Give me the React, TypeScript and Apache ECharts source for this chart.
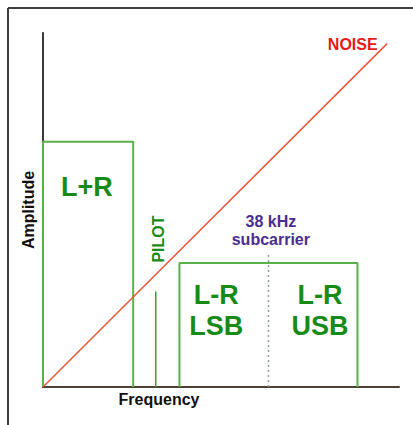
import React, { useEffect, useRef } from "react";
import * as echarts from "echarts";

// Frequency axis (kHz) and amplitude axis (relative units)
const freqRange = [0, 60];
const ampRange = [0, 100];

// Spectrum components: [frequency, amplitude]
const lPlusR = [[0, 0], [0, 69.3], [15.2, 69.3], [15.2, 0]];
const pilot = [[19, 0], [19, 27]];
const lMinusR = [[23, 0], [23, 35], [53, 35], [53, 0]];
const subcarrier = [[38, 0], [38, 38]];
const noise = [[0, 0], [58, 97]];

const FONT = "'Liberation Sans', Arial, Helvetica, sans-serif";
const GREEN_TEXT = "#178a17";
const GREEN_LINE = "#5cb04a";

export default function App() {
  const ref = useRef<HTMLDivElement>(null);
  useEffect(() => {
    if (!ref.current) return;
    const chart = echarts.init(ref.current, null, { renderer: "svg" });
    const lbl = (text: string, coord: number[], extra: any = {}) => ({
      coord,
      value: text,
      label: {
        show: true,
        formatter: text,
        fontFamily: FONT,
        fontWeight: "bold",
        ...extra,
      },
    });
    chart.setOption({
      animation: false,
      backgroundColor: "#ffffff",
      grid: { left: 43, top: 33, right: 14, bottom: 38 },
      xAxis: {
        type: "value",
        min: freqRange[0],
        max: freqRange[1],
        axisLabel: { show: false },
        axisTick: { show: false },
        splitLine: { show: false },
        axisLine: { lineStyle: { color: "#4a4036", width: 2 } },
      },
      yAxis: {
        type: "value",
        min: ampRange[0],
        max: ampRange[1],
        name: "Amplitude",
        nameLocation: "middle",
        nameGap: 7,
        nameTextStyle: { fontFamily: FONT, fontWeight: "bold", fontSize: 16, color: "#111" },
        axisLabel: { show: false },
        axisTick: { show: false },
        splitLine: { show: false },
        axisLine: { lineStyle: { color: "#3a3a3a", width: 2 } },
      },
      graphic: [
        { type: "line", shape: { x1: 8, y1: 8, x2: 413, y2: 8 }, style: { stroke: "#3c3c3c", lineWidth: 2 } },
        { type: "line", shape: { x1: 8, y1: 8, x2: 8, y2: 425 }, style: { stroke: "#3c3c3c", lineWidth: 2 } },
        {
          type: "text",
          x: 159,
          y: 399,
          style: {
            text: "Frequency",
            fill: "#111",
            font: `bold 16px ${FONT}`,
            align: "center",
            verticalAlign: "middle",
          },
        },
      ],
      series: [
        {
          type: "line",
          name: "L+R",
          data: lPlusR,
          symbol: "none",
          lineStyle: { color: GREEN_LINE, width: 2 },
          z: 2,
          markPoint: {
            symbol: "circle",
            symbolSize: 1,
            itemStyle: { color: "transparent" },
            data: [lbl("L+R", [7.4, 56.5], { fontSize: 27, color: GREEN_TEXT })],
          },
        },
        {
          type: "line",
          name: "Pilot",
          data: pilot,
          symbol: "none",
          lineStyle: { color: "#3d9a3d", width: 1.5 },
          z: 2,
          markPoint: {
            symbol: "circle",
            symbolSize: 1,
            itemStyle: { color: "transparent" },
            data: [lbl("PILOT", [19.4, 41.8], { fontSize: 16, color: GREEN_TEXT, rotate: 90 })],
          },
        },
        {
          type: "line",
          name: "L-R",
          data: lMinusR,
          symbol: "none",
          lineStyle: { color: GREEN_LINE, width: 2 },
          z: 2,
          markPoint: {
            symbol: "circle",
            symbolSize: 1,
            itemStyle: { color: "transparent" },
            data: [
              lbl("L-R\nLSB", [29.2, 21.6], { fontSize: 27, lineHeight: 31, color: GREEN_TEXT, align: "center" }),
              lbl("L-R\nUSB", [46.7, 21.6], { fontSize: 27, lineHeight: 31, color: GREEN_TEXT, align: "center" }),
            ],
          },
        },
        {
          type: "line",
          name: "Subcarrier",
          data: subcarrier,
          symbol: "none",
          lineStyle: { color: "#8f9a9a", width: 1.5, type: [2, 3] },
          z: 3,
          markPoint: {
            symbol: "circle",
            symbolSize: 1,
            itemStyle: { color: "transparent" },
            data: [
              lbl("38 kHz\nsubcarrier", [38.4, 44.1], { fontSize: 16, lineHeight: 18, color: "#4a2d8f", align: "center" }),
            ],
          },
        },
        {
          type: "line",
          name: "Noise",
          data: noise,
          symbol: "none",
          lineStyle: { color: "#e8583c", width: 1.5 },
          z: 4,
          markPoint: {
            symbol: "circle",
            symbolSize: 1,
            itemStyle: { color: "transparent" },
            data: [lbl("NOISE", [52.2, 96.8], { fontSize: 16, color: "#e31b1b" })],
          },
        },
      ],
    });
    return () => chart.dispose();
  }, []);
  return (
    <div
      ref={ref}
      style={{ position: "fixed", left: 0, top: 0, width: 413, height: 425 }}
    />
  );
}
